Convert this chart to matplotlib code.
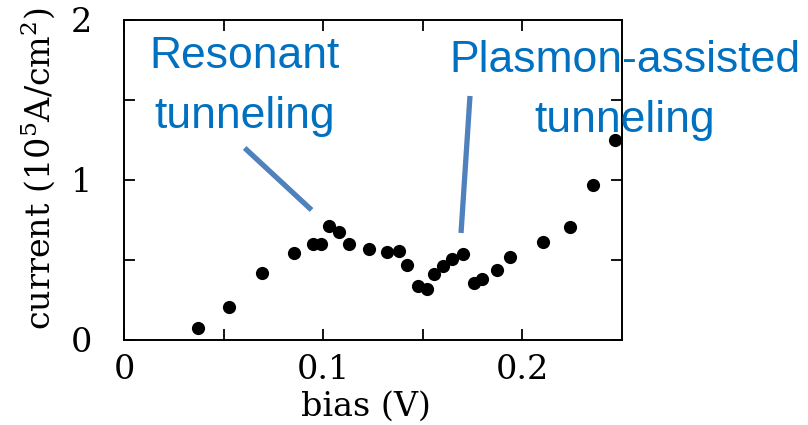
import matplotlib
matplotlib.use('Agg')
from matplotlib import pyplot as plt
import numpy as np

# Measured tunneling current vs bias
bias = [0.0372, 0.0527, 0.0695, 0.0856, 0.0948, 0.0990, 0.1028, 0.1082,
        0.1132, 0.1229, 0.1319, 0.1379, 0.1424, 0.1479, 0.1524, 0.1558,
        0.1604, 0.1646, 0.1704, 0.1758, 0.1800, 0.1872, 0.1938, 0.2104,
        0.2242, 0.2354, 0.2468]
current = [0.073, 0.208, 0.417, 0.546, 0.598, 0.598, 0.714, 0.673,
           0.598, 0.567, 0.548, 0.558, 0.469, 0.338, 0.317, 0.410,
           0.463, 0.504, 0.540, 0.358, 0.379, 0.440, 0.520, 0.614,
           0.704, 0.969, 1.250]

xtick_pos = [0, 0.1, 0.2]
xtick_labels = ['0', '0.1', '0.2']
ytick_pos = [0, 1, 2]
ytick_labels = ['0', '1', '2']

plt.rcParams['mathtext.fontset'] = 'dejavuserif'

fig = plt.figure(figsize=(8.08, 4.25), dpi=100)
ax = fig.add_axes([0.1535, 0.2, 0.6159, 0.753])

ax.plot(bias, current, 'o', color='black', markersize=9.5, markeredgewidth=0)

ax.set_xlim(0, 0.25)
ax.set_ylim(0, 2)

# Inward ticks on all four sides, labels only on the major ones
ax.set_xticks(xtick_pos, xtick_labels)
ax.set_xticks([0.05, 0.15], minor=True)
ax.set_yticks(ytick_pos, ytick_labels)
ax.set_yticks([0.5, 1.5], minor=True)
ax.tick_params(which='both', direction='in', top=True, right=True,
               length=8, width=1.3, color='black')
ax.tick_params(axis='x', which='major', pad=10)
ax.tick_params(axis='y', which='major', pad=23)
for lab in ax.get_xticklabels() + ax.get_yticklabels():
    lab.set_fontfamily('DejaVu Serif')
    lab.set_fontsize(24)
for sp in ax.spines.values():
    sp.set_linewidth(1.4)

ax.set_xlabel('bias (V)', fontsize=24, family='DejaVu Serif')
ax.set_ylabel(r'current (10$^5$A/cm$^2$)', fontsize=24, family='DejaVu Serif')
ax.xaxis.set_label_coords(0.487, -0.16)
ax.yaxis.set_label_coords(-0.135, 0.535)

# Annotations (baseline of the last line is the anchor)
blue_text = '#0070C0'
blue_line = '#4F81BD'
ax.text(0.0606, 1.325, 'Resonant\ntunneling', color=blue_text, fontsize=32,
        family='Liberation Sans', ha='center', va='baseline',
        linespacing=1.59, clip_on=False)
ax.text(0.2517, 1.30, 'Plasmon-assisted\ntunneling', color=blue_text,
        fontsize=32, family='Liberation Sans', ha='center', va='baseline',
        linespacing=1.59, clip_on=False)
ax.plot([0.0606, 0.0942], [1.2, 0.8125], color=blue_line, lw=3.8,
        solid_capstyle='butt', clip_on=False)
ax.plot([0.1738, 0.1693], [1.525, 0.669], color=blue_line, lw=3.8,
        solid_capstyle='butt', clip_on=False)

fig.savefig('out.png', dpi=100)
